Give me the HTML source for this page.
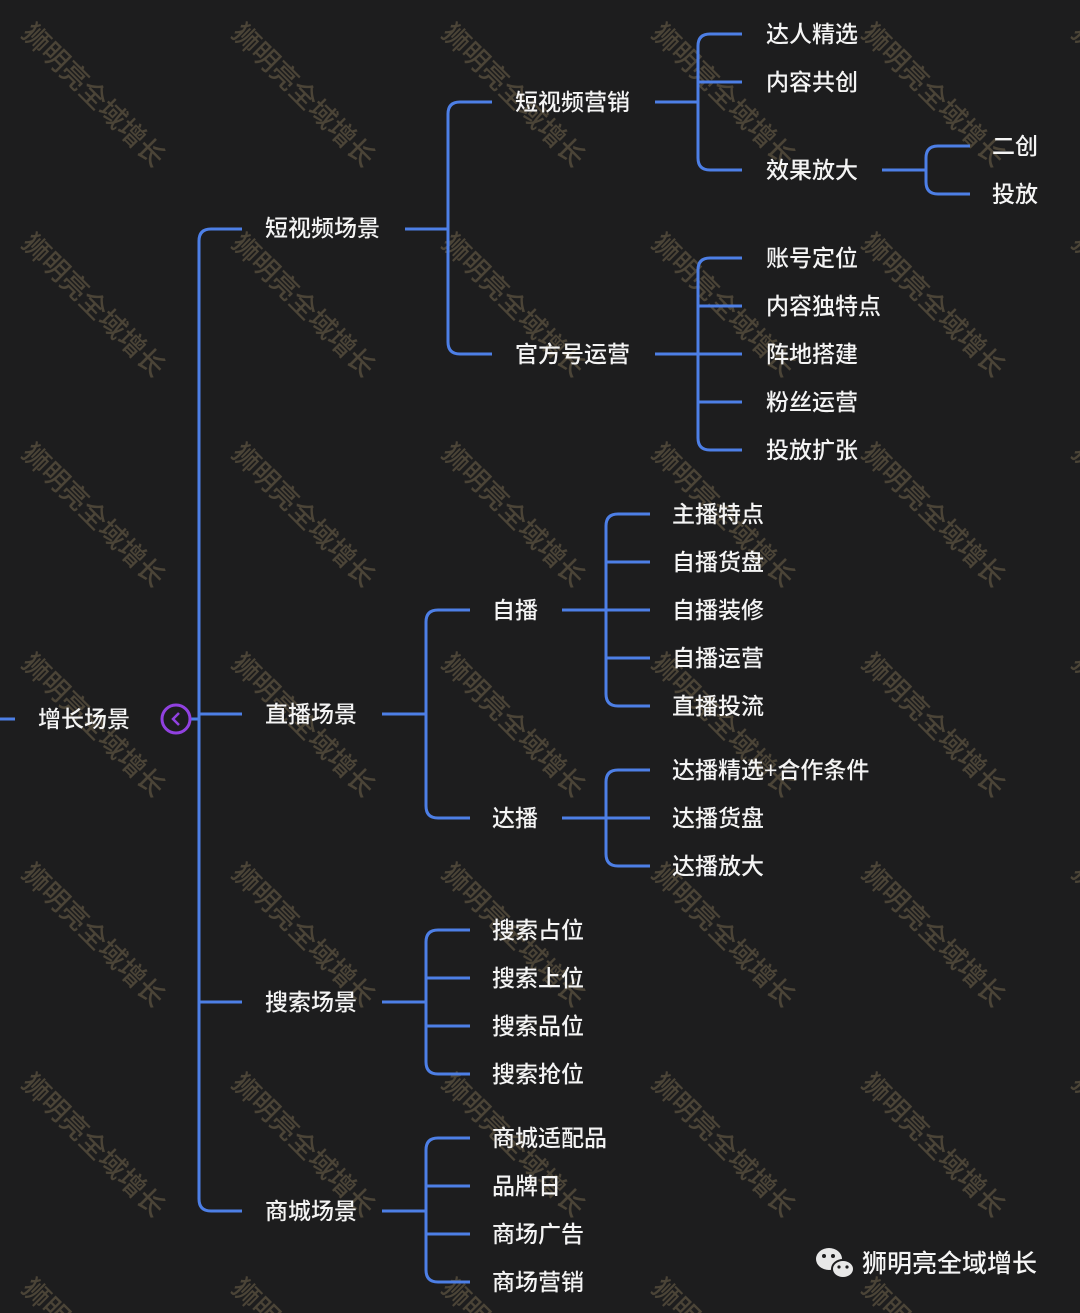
<!DOCTYPE html>
<html><head><meta charset="utf-8"><style>
html,body{margin:0;padding:0;background:#1d1d1e;width:1080px;height:1313px;overflow:hidden;}
svg{display:block}
.t{font-family:"Liberation Sans","Noto Sans CJK SC",sans-serif;font-size:23px;font-weight:500;fill:#f4f4f4;dominant-baseline:central}
.w{font-family:"Liberation Sans","Noto Sans CJK SC",sans-serif;font-size:27px;font-weight:500;fill:#6b5f48;opacity:.6}
</style></head><body>
<svg width="1080" height="1313" viewBox="0 0 1080 1313" xmlns="http://www.w3.org/2000/svg">
<rect width="1080" height="1313" fill="#1d1d1e"/>
<g class="w">
<text transform="translate(20,35) rotate(45)">狮明亮全域增长</text>
<text transform="translate(230,35) rotate(45)">狮明亮全域增长</text>
<text transform="translate(440,35) rotate(45)">狮明亮全域增长</text>
<text transform="translate(650,35) rotate(45)">狮明亮全域增长</text>
<text transform="translate(860,35) rotate(45)">狮明亮全域增长</text>
<text transform="translate(1070,35) rotate(45)">狮明亮全域增长</text>
<text transform="translate(20,245) rotate(45)">狮明亮全域增长</text>
<text transform="translate(230,245) rotate(45)">狮明亮全域增长</text>
<text transform="translate(440,245) rotate(45)">狮明亮全域增长</text>
<text transform="translate(650,245) rotate(45)">狮明亮全域增长</text>
<text transform="translate(860,245) rotate(45)">狮明亮全域增长</text>
<text transform="translate(1070,245) rotate(45)">狮明亮全域增长</text>
<text transform="translate(20,455) rotate(45)">狮明亮全域增长</text>
<text transform="translate(230,455) rotate(45)">狮明亮全域增长</text>
<text transform="translate(440,455) rotate(45)">狮明亮全域增长</text>
<text transform="translate(650,455) rotate(45)">狮明亮全域增长</text>
<text transform="translate(860,455) rotate(45)">狮明亮全域增长</text>
<text transform="translate(1070,455) rotate(45)">狮明亮全域增长</text>
<text transform="translate(20,665) rotate(45)">狮明亮全域增长</text>
<text transform="translate(230,665) rotate(45)">狮明亮全域增长</text>
<text transform="translate(440,665) rotate(45)">狮明亮全域增长</text>
<text transform="translate(650,665) rotate(45)">狮明亮全域增长</text>
<text transform="translate(860,665) rotate(45)">狮明亮全域增长</text>
<text transform="translate(1070,665) rotate(45)">狮明亮全域增长</text>
<text transform="translate(20,875) rotate(45)">狮明亮全域增长</text>
<text transform="translate(230,875) rotate(45)">狮明亮全域增长</text>
<text transform="translate(440,875) rotate(45)">狮明亮全域增长</text>
<text transform="translate(650,875) rotate(45)">狮明亮全域增长</text>
<text transform="translate(860,875) rotate(45)">狮明亮全域增长</text>
<text transform="translate(1070,875) rotate(45)">狮明亮全域增长</text>
<text transform="translate(20,1085) rotate(45)">狮明亮全域增长</text>
<text transform="translate(230,1085) rotate(45)">狮明亮全域增长</text>
<text transform="translate(440,1085) rotate(45)">狮明亮全域增长</text>
<text transform="translate(650,1085) rotate(45)">狮明亮全域增长</text>
<text transform="translate(860,1085) rotate(45)">狮明亮全域增长</text>
<text transform="translate(1070,1085) rotate(45)">狮明亮全域增长</text>
<text transform="translate(20,1290) rotate(45)">狮明亮全域增长</text>
<text transform="translate(230,1290) rotate(45)">狮明亮全域增长</text>
<text transform="translate(440,1290) rotate(45)">狮明亮全域增长</text>
<text transform="translate(650,1290) rotate(45)">狮明亮全域增长</text>
<text transform="translate(860,1290) rotate(45)">狮明亮全域增长</text>
</g>
<g fill="none" stroke="#4d7fe6" stroke-width="3" stroke-linecap="butt">
<path d="M0 719H15"/>
<path d="M190 719H199"/>
<path d="M242 229H211Q199 229 199 241V1199Q199 1211 211 1211H242M199 714H242M199 1002H242"/>
<path d="M405 229H448M492 102H460Q448 102 448 114V342Q448 354 460 354H492"/>
<path d="M655 102H698M742 34H710Q698 34 698 46V158Q698 170 710 170H742M698 82H742"/>
<path d="M882 170H926M970 146H938Q926 146 926 158V182Q926 194 938 194H970"/>
<path d="M655 354H742M742 258H710Q698 258 698 270V438Q698 450 710 450H742M698 306H742M698 402H742"/>
<path d="M382 714H426M470 610H438Q426 610 426 622V806Q426 818 438 818H470"/>
<path d="M562 610H650M650 514H618Q606 514 606 526V694Q606 706 618 706H650M606 562H650M606 658H650"/>
<path d="M562 818H650M650 770H618Q606 770 606 782V854Q606 866 618 866H650"/>
<path d="M382 1002H426M470 930H438Q426 930 426 942V1062Q426 1074 438 1074H470M426 978H470M426 1026H470"/>
<path d="M382 1211H426M470 1138H438Q426 1138 426 1150V1270Q426 1282 438 1282H470M426 1186H470M426 1234H470"/>
</g>
<circle cx="176" cy="719" r="14" fill="#1d1d1e" stroke="#9141e0" stroke-width="3"/>
<path d="M179 713L173 719L179 725" fill="none" stroke="#9141e0" stroke-width="2.5"/>
<g class="t">
<text x="38" y="719">增长场景</text>
<text x="265" y="228">短视频场景</text>
<text x="515" y="102">短视频营销</text>
<text x="766" y="34">达人精选</text>
<text x="766" y="82">内容共创</text>
<text x="766" y="170">效果放大</text>
<text x="992" y="146">二创</text>
<text x="992" y="194">投放</text>
<text x="515" y="354">官方号运营</text>
<text x="766" y="258">账号定位</text>
<text x="766" y="306">内容独特点</text>
<text x="766" y="354">阵地搭建</text>
<text x="766" y="402">粉丝运营</text>
<text x="766" y="450">投放扩张</text>
<text x="265" y="714">直播场景</text>
<text x="492" y="610">自播</text>
<text x="672" y="514">主播特点</text>
<text x="672" y="562">自播货盘</text>
<text x="672" y="610">自播装修</text>
<text x="672" y="658">自播运营</text>
<text x="672" y="706">直播投流</text>
<text x="492" y="818">达播</text>
<text x="672" y="770">达播精选+合作条件</text>
<text x="672" y="818">达播货盘</text>
<text x="672" y="866">达播放大</text>
<text x="265" y="1002">搜索场景</text>
<text x="492" y="930">搜索占位</text>
<text x="492" y="978">搜索上位</text>
<text x="492" y="1026">搜索品位</text>
<text x="492" y="1074">搜索抢位</text>
<text x="265" y="1211">商城场景</text>
<text x="492" y="1138">商城适配品</text>
<text x="492" y="1186">品牌日</text>
<text x="492" y="1234">商场广告</text>
<text x="492" y="1282">商场营销</text>
<text x="862" y="1264" style="font-size:25px">狮明亮全域增长</text>
</g>
<g fill="#e8e8e8">
<ellipse cx="829" cy="1259" rx="13" ry="11"/>
<ellipse cx="843" cy="1269" rx="11" ry="9" stroke="#1d1d1e" stroke-width="2"/>
</g>
<g fill="#1d1d1e"><circle cx="824" cy="1256" r="2"/><circle cx="833" cy="1256" r="2"/><circle cx="839" cy="1267" r="1.6"/><circle cx="847" cy="1267" r="1.6"/></g>
</svg>
</body></html>
